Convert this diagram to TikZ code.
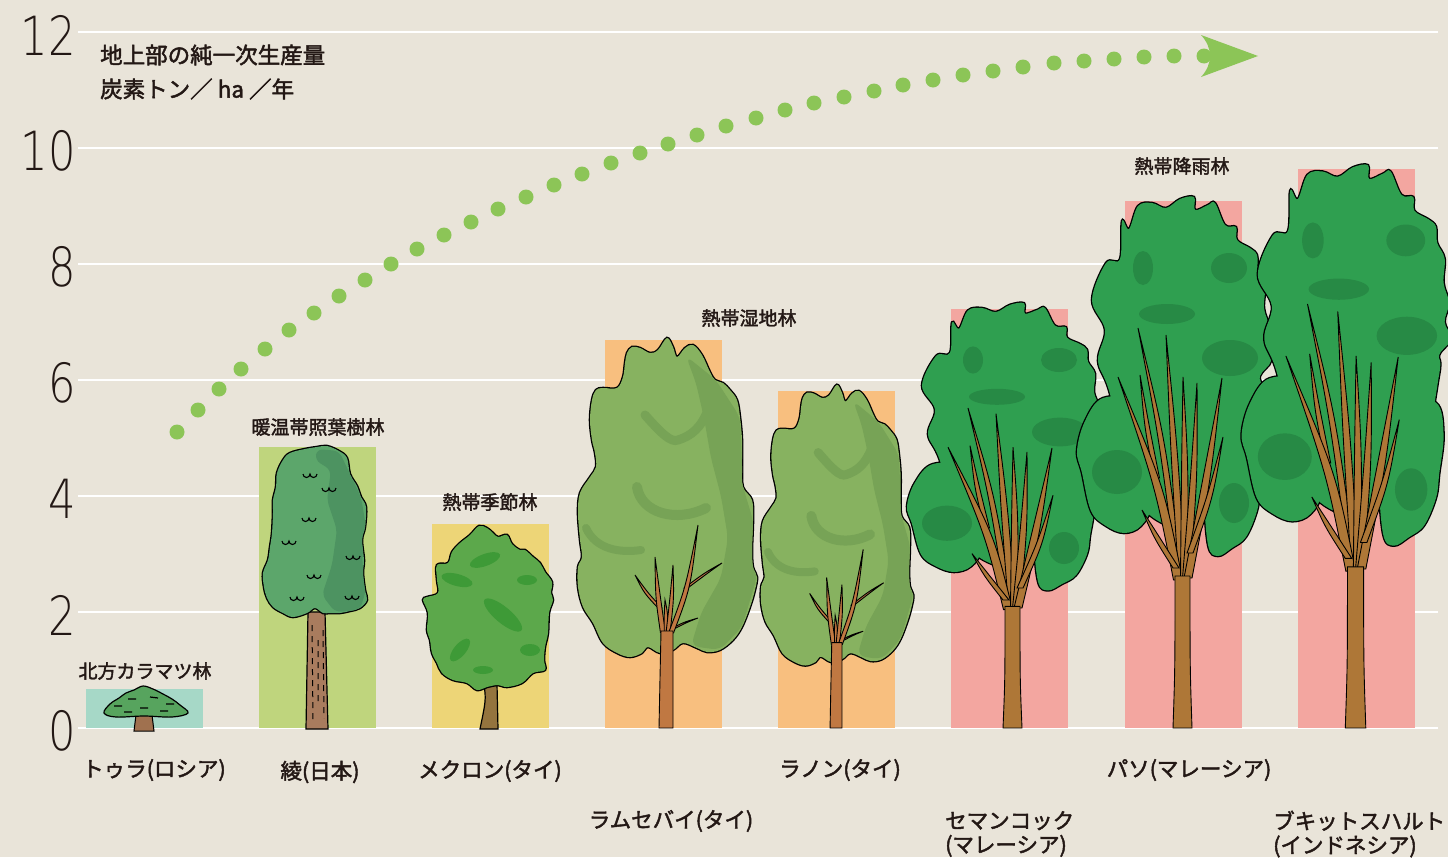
\documentclass[tikz,border=0pt]{standalone}
\usepackage{fontspec}
\usetikzlibrary{calc}
\newfontfamily\jp{Noto Sans CJK JP}[FakeBold=2]
\newfontfamily\axisnum{DejaVu Sans ExtraLight}[FakeStretch=0.8]

\definecolor{paper}{HTML}{E9E4D9}
\definecolor{ink}{HTML}{231815}
\definecolor{barteal}{HTML}{A6D8C7}
\definecolor{barlime}{HTML}{BFD57D}
\definecolor{baryellow}{HTML}{EDD577}
\definecolor{barorange}{HTML}{F8BF7F}
\definecolor{barpink}{HTML}{F3A6A0}
\definecolor{trend}{HTML}{8CC557}
\definecolor{larchleaf}{HTML}{57A45E}
\definecolor{larchwood}{HTML}{A0714F}
\definecolor{ayaleaf}{HTML}{5CA66B}
\definecolor{ayashade}{HTML}{4D9361}
\definecolor{ayawood}{HTML}{A97C5E}
\definecolor{monleaf}{HTML}{5CA84B}
\definecolor{monshade}{HTML}{3E9A37}
\definecolor{monwood}{HTML}{94743E}
\definecolor{swampleaf}{HTML}{87B260}
\definecolor{swampshade}{HTML}{77A356}
\definecolor{swampwood}{HTML}{C07842}
\definecolor{rainleaf}{HTML}{2F9F50}
\definecolor{rainshade}{HTML}{278A45}
\definecolor{rainwood}{HTML}{AE7737}

\newlength{\dotsize}
\setlength{\dotsize}{7.5pt}

% tapered limb: base x, base y, control x, control y, tip x, tip y, half width
\newcommand{\branch}[7]{\filldraw[limb] ({#1-#7},#2) .. controls ({#3-#7},#4) .. (#5,#6) .. controls ({#3+#7},#4) .. ({#1+#7},#2) -- cycle;}

% crown outlines
\newcommand{\ayacrown}{plot[smooth cycle,tension=0.6] coordinates {(290,453) (305,449) (317,447) (327,446) (339,451) (347,458) (350,474) (357,486) (361,497) (366,507) (365,527) (362,540) (364,560) (363,573) (365,590) (367,600) (360,608) (350,611) (340,613) (330,613) (323,613) (315,608) (307,613) (293,617) (283,613) (273,607) (267,598) (264,587) (263,573) (268,560) (270,547) (272,533) (273,513) (273,500) (276,487) (277,473) (283,460)}}
\newcommand{\moncrown}{plot[smooth cycle,tension=0.6] coordinates {(437,565) (448,563) (452,552) (460,543) (470,535) (479,526) (487,528) (493,533) (498,537) (507,535) (512,544) (520,550) (525,550) (533,557) (540,563) (545,572) (552,582) (551,593) (553,600) (549,613) (548,633) (545,647) (544,660) (545,670) (533,673) (522,683) (507,687) (498,685) (487,687) (477,690) (467,683) (453,680) (442,673) (437,663) (432,653) (430,640) (427,630) (428,613) (423,600) (427,597) (438,593) (437,580)}}
\newcommand{\swampcrown}{plot[smooth cycle,tension=0.6] coordinates {(-39,-375) (-34,-381) (-26,-380) (-16,-375) (-8,-378) (1,-390) (7,-381) (11,-371) (19,-380) (27,-383) (36,-373) (44,-356) (49,-348) (57,-345) (64,-338) (71,-328) (74,-311) (76,-288) (76,-261) (77,-241) (86,-228) (87,-208) (86,-178) (87,-161) (91,-151) (89,-138) (84,-121) (76,-101) (67,-88) (54,-78) (41,-76) (31,-80) (17,-85) (7,-78) (-6,-75) (-18,-81) (-24,-75) (-36,-71) (-49,-75) (-63,-85) (-73,-105) (-83,-121) (-88,-141) (-88,-161) (-84,-171) (-86,-188) (-88,-215) (-86,-235) (-76,-251) (-70,-261) (-71,-275) (-74,-288) (-76,-308) (-74,-328) (-70,-338) (-63,-340) (-49,-340) (-43,-351) (-41,-365)}}
\newcommand{\rainupper}{plot[smooth cycle,tension=0.6] coordinates {(-72,-334) (-84,-367) (-77,-398) (-90,-428) (-76,-465) (-62,-469) (-60,-507) (-53,-499) (-44,-522) (-30,-525) (-16,-520) (-2,-529) (12,-531) (13,-518) (26,-523) (33,-525) (43,-503) (54,-501) (55,-488) (68,-480) (75,-473) (76,-458) (83,-443) (82,-420) (87,-401) (83,-383) (89,-367) (78,-352) (78,-334) (60,-250) (20,-205) (-20,-205) (-50,-240)}}
\newcommand{\rainleft}{plot[smooth cycle,tension=0.6] coordinates {(-79,-330) (-97,-307) (-105,-277) (-100,-255) (-91,-217) (-76,-202) (-58,-195) (-41,-202) (-30,-225) (-28,-280) (-45,-325)}}
\newcommand{\rainright}{plot[smooth cycle,tension=0.6] coordinates {(43,-307) (75,-307) (82,-277) (78,-240) (75,-217) (64,-191) (50,-180) (36,-172) (26,-183) (22,-240) (26,-285)}}

\tikzset{
  pics/swamptree/.style={code={
    \tikzset{limb/.style={fill=swampwood,draw=black,line width=0.9pt}}
    \draw[line width=2.6pt] \swampcrown;
    \fill[swampleaf] \swampcrown;
    \begin{scope}
      \clip \swampcrown;
      \fill[swampshade,rounded corners=8pt] (20,-372) -- (50,-348) -- (74,-311) -- (77,-241) -- (87,-208) -- (91,-151) -- (76,-101) -- (54,-78) -- (25,-82) -- (35,-115) -- (55,-150) -- (62,-190) -- (55,-232) -- (45,-270) -- (38,-310) -- (30,-345) -- cycle;
    \end{scope}
    \draw[swampshade,line width=9pt,line cap=round] (-21,-313) .. controls (-5,-295) and (5,-285) .. (12,-288) .. controls (25,-292) and (35,-300) .. (42,-318);
    \draw[swampshade,line width=10pt,line cap=round] (-29,-241) .. controls (-25,-215) and (10,-205) .. (40,-220);
    \draw[swampshade,line width=8pt,line cap=round] (-80,-200) .. controls (-70,-178) and (-45,-175) .. (-25,-178);
    \branch{-6}{-120}{-20}{-135}{-31}{-153}{2}
    \branch{-3}{-95}{-8}{-130}{-11}{-171}{2.5}
    \branch{0}{-95}{0}{-115}{-1}{-128}{1.8}
    \branch{2}{-95}{6}{-130}{7}{-163}{2}
    \branch{20}{-140}{40}{-155}{56}{-165}{1.8}
    \branch{8}{-100}{20}{-106}{32}{-110}{1.8}
    \branch{5}{-95}{22}{-140}{32}{-203}{2.5}
    \filldraw[limb] (-7,0) .. controls (-6,-50) .. (-5,-97) -- (7,-97) .. controls (7,-50) .. (7,0) -- cycle;
  }},
  pics/raintree/.style={code={
    \tikzset{limb/.style={fill=rainwood,draw=black,line width=0.9pt}}
    \draw[line width=2.6pt] \rainupper \rainleft \rainright;
    \fill[rainleaf] \rainupper;
    \fill[rainleaf] \rainleft;
    \fill[rainleaf] \rainright;
    \fill[rainshade] (-39,-460) ellipse[x radius=10,y radius=17];
    \fill[rainshade] (47,-460) ellipse[x radius=18,y radius=15];
    \fill[rainshade] (-15,-414) ellipse[x radius=28,y radius=10];
    \fill[rainshade] (48,-370) ellipse[x radius=28,y radius=18];
    \fill[rainshade] (-65,-256) ellipse[x radius=25,y radius=22];
    \fill[rainshade] (52,-225) ellipse[x radius=15,y radius=20];
    \branch{-2}{-150}{-20}{-290}{-44}{-400}{3}
    \branch{0}{-150}{-8}{-280}{-16}{-393}{3.5}
    \branch{-25}{-250}{-35}{-300}{-42}{-353}{2.5}
    \branch{-4}{-148}{-22}{-240}{-64}{-351}{4.5}
    \branch{2}{-150}{3}{-260}{1}{-351}{3.5}
    \branch{4}{-150}{12}{-250}{15}{-345}{3.5}
    \branch{6}{-150}{25}{-250}{40}{-350}{4}
    \branch{8}{-175}{28}{-230}{41}{-291}{3}
    \branch{-6}{-160}{-25}{-190}{-40}{-218}{3}
    \filldraw[limb] (-9,0) .. controls (-7,-60) .. (-7,-152) -- (8,-152) .. controls (8,-60) .. (10,0) -- cycle;
  }}
}

\begin{document}
\begin{tikzpicture}[x=1pt,y=-1pt,
    gridline/.style={draw=white,line width=2.5pt},
    numlabel/.style={anchor=east,inner sep=0pt,text=ink,font=\axisnum\fontsize{54}{54}\selectfont},
    titlelabel/.style={anchor=west,inner sep=0pt,text=ink,font=\jp\fontsize{22.5}{26}\selectfont},
    typelabel/.style={inner sep=0pt,text=ink,font=\jp\fontsize{19}{22}\selectfont},
    sitelabel/.style={inner sep=0pt,text=ink,align=left,font=\jp\fontsize{21.5}{24}\selectfont}]
  \useasboundingbox (0,0) rectangle (1448,857);
  \fill[paper] (0,0) rectangle (1448,857);

  % grid and scale
  \foreach \v in {0,2,...,12}
    \draw[gridline] (78,{728-58*\v}) -- (1438,{728-58*\v});
  \foreach \v in {0,2,...,12}
    \node[numlabel] (tick\v) at (76,{731-58*\v}) {\v};
  \node[titlelabel] (ttl1) at (100,55) {地上部の純一次生産量};
  \node[titlelabel] (ttl2) at (100,89) {炭素トン／ ha ／年};

  % bars
  \fill[barteal] (86,689) rectangle (203,728);
  \fill[barlime] (259,447) rectangle (376,728);
  \fill[baryellow] (432,524) rectangle (549,728);
  \fill[barorange] (605,340) rectangle (722,728);
  \fill[barorange] (778,391) rectangle (895,728);
  \fill[barpink] (951,309) rectangle (1068,728);
  \fill[barpink] (1125,201) rectangle (1242,728);
  \fill[barpink] (1298,169) rectangle (1415,728);

  % trend
  \foreach \px/\py in {177/432,198/410,219/389,241/369,265/349,289/330,314/313,339/296,365/280,391/264,417/249,444/235,471/222,498/209,526/197,554/185,582/174,611/163,640/153,668/144,697/135,726/126,756/118,785/110,814/103,844/97,874/91,903/85,933/80,963/75,993/71,1023/67,1054/63,1084/61,1114/59,1144/57,1174/56,1204/56}
    \fill[trend] (\px,\py) circle[radius=\dotsize];
  \fill[trend] (1258,56) -- (1201,35) .. controls (1213,48) and (1213,64) .. (1201,77) -- cycle;

  % larch
  \filldraw[larchwood,draw=black,line width=1pt] (136,715) -- (152,715) -- (154,731) -- (134,731) -- cycle;
  \filldraw[larchleaf,draw=black,line width=1.2pt] plot[smooth cycle,tension=0.6] coordinates {(104,713) (110,704) (119,698) (126,693) (134,690) (143,686) (153,689) (163,694) (172,699) (180,705) (188,713) (172,717) (144,716) (116,717)};
  \draw[line width=1.2pt] (114,706) -- (122,706) (128,699) -- (136,699) (150,697) -- (158,698) (166,704) -- (174,704) (140,708) -- (148,708) (124,712) -- (132,712) (160,711) -- (168,711);

  % aya
  \filldraw[ayawood,draw=black,line width=1.2pt] (308,612) -- (325,612) -- (328,729) -- (306,729) -- cycle;
  \draw[line width=1pt,dash pattern=on 6pt off 5pt] (312,625) -- (313,720) (318,640) -- (318,705) (323,630) -- (324,718);
  \draw[line width=2.6pt] \ayacrown;
  \fill[ayaleaf] \ayacrown;
  \begin{scope}
    \clip \ayacrown;
    \fill[ayashade,rounded corners=6pt] (317,449) -- (339,451) -- (350,474) -- (361,497) -- (366,527) -- (362,560) -- (366,590) -- (360,610) -- (335,612) -- (322,595) -- (332,565) -- (337,530) -- (327,500) -- (331,470) -- (315,460) -- cycle;
  \end{scope}
  \foreach \mx/\my in {303/474,322/488,302/518,282/541,307/575,346/556,290/597,345/596}
    \draw[line width=1.1pt] (\mx,\my) arc[start angle=180,end angle=0,radius=3.5] arc[start angle=180,end angle=0,radius=3.5];

  % meklong
  \filldraw[monwood,draw=black,line width=1.2pt] (484,684) .. controls (486,700) .. (480,729) -- (498,729) -- (497,684) -- cycle;
  \draw[line width=2.6pt] \moncrown;
  \fill[monleaf] \moncrown;
  \fill[monshade,rotate around={20:(485,560)}] (485,560) ellipse[x radius=16,y radius=6];
  \fill[monshade,rotate around={-15:(457,580)}] (457,580) ellipse[x radius=16,y radius=6];
  \fill[monshade] (527,580) ellipse[x radius=10,y radius=5];
  \fill[monshade,rotate around={-40:(503,615)}] (503,615) ellipse[x radius=24,y radius=8];
  \fill[monshade,rotate around={50:(460,650)}] (460,650) ellipse[x radius=14,y radius=6];
  \fill[monshade] (530,650) ellipse[x radius=10,y radius=6];
  \fill[monshade] (483,670) ellipse[x radius=10,y radius=4];

  % swamp and rain forests
  \pic (lamsebai) at (666,728) {swamptree};
  \pic[xscale=0.85,yscale=0.88] (ranong) at (836,728) {swamptree};
  \pic[yscale=0.8] (semangkok) at (1012,728) {raintree};
  \pic (pasoh) at (1182,728) {raintree};
  \pic[xscale=1.08,yscale=1.06] (bukit) at (1355,728) {raintree};

  % forest types
  \node[typelabel] (boreal) at (145,671) {北方カラマツ林};
  \node[typelabel] (laurel) at (318,427) {暖温帯照葉樹林};
  \node[typelabel] (monsoon) at (490,502) {熱帯季節林};
  \node[typelabel] (swamp) at (749,318) {熱帯湿地林};
  \node[typelabel] (rainforest) at (1182,166) {熱帯降雨林};

  % sites
  \node[sitelabel] (tura) at (154,770) {トゥラ(ロシア)};
  \node[sitelabel] (aya) at (320,772) {綾(日本)};
  \node[sitelabel] (meklong) at (490,771) {メクロン(タイ)};
  \node[sitelabel] (lamsebaisite) at (671,821) {ラムセバイ(タイ)};
  \node[sitelabel] (ranongsite) at (840,770) {ラノン(タイ)};
  \node[sitelabel,anchor=west] (semangkoksite) at (945,834) {セマンコック\\(マレーシア)};
  \node[sitelabel] (pasohsite) at (1189,770) {パソ(マレーシア)};
  \node[sitelabel,anchor=west] (bukitsite) at (1273,834) {ブキットスハルト\\(インドネシア)};
\end{tikzpicture}
\end{document}
